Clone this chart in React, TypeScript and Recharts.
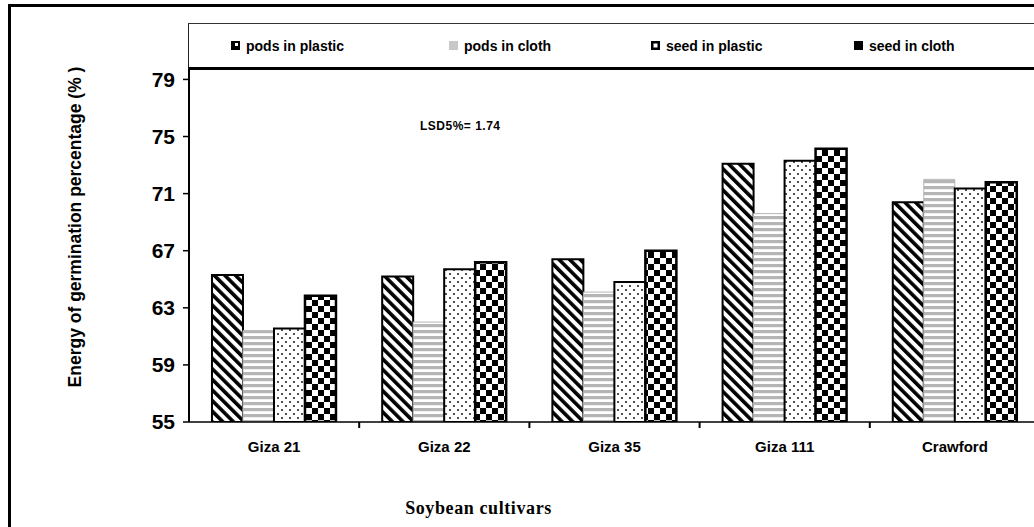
import React from 'react';
import { BarChart, Bar, XAxis, YAxis, Legend } from 'recharts';

const categories = ['Giza 21', 'Giza 22', 'Giza 35', 'Giza 111', 'Crawford'];
const podsInPlastic = [65.3, 65.2, 66.4, 73.1, 70.4];
const podsInCloth = [61.4, 62.0, 64.1, 69.6, 72.0];
const seedInPlastic = [61.55, 65.7, 64.8, 73.3, 71.35];
const seedInCloth = [63.85, 66.2, 67.0, 74.15, 71.8];
const seriesNames = ['pods in plastic', 'pods in cloth', 'seed in plastic', 'seed in cloth'];
const seriesKeys = ['podsPlastic', 'podsCloth', 'seedPlastic', 'seedCloth'];
const yTicks = [55, 59, 63, 67, 71, 75, 79];
const yMin = 55;
const yMax = 79.8;
const yTitle = 'Energy of germination percentage (% )';
const xTitle = 'Soybean cultivars';
const lsdText = 'LSD5%= 1.74';

const data = categories.map((c, i) => ({
  cultivar: c,
  podsPlastic: podsInPlastic[i],
  podsCloth: podsInCloth[i],
  seedPlastic: seedInPlastic[i],
  seedCloth: seedInCloth[i],
}));

const CHART_W = 1045;
const CHART_H = 527;
const MARGIN = { top: 68, right: 5, bottom: 0, left: 0 };
const YAXIS_W = 189;
const XAXIS_H = 105;
const PLOT_W = CHART_W - MARGIN.right - MARGIN.left - YAXIS_W;

const SANS = '"Liberation Sans", Arial, sans-serif';
const SERIF = '"Liberation Serif", "Times New Roman", serif';

const fills = ['url(#pDiag)', 'url(#pHStripe)', 'url(#pDots)', 'url(#pCheck)'];
const strokes = ['#000', '#b5b5b5', '#000', '#000'];
const strokeWidths = [2, 1, 2, 2.5];
const markerFills = ['url(#mDiag)', '#c8c8c8', 'url(#mBox)', '#000'];

const Patterns = () => (
  <svg width={0} height={0} style={{ position: 'absolute' }}>
    <defs>
      <pattern id="pDiag" width="7.5" height="7.5" patternUnits="userSpaceOnUse" patternTransform="rotate(-45)">
        <rect width="7.5" height="7.5" fill="#fff" />
        <rect width="3.6" height="7.5" fill="#000" />
      </pattern>
      <pattern id="pHStripe" width="6" height="6" patternUnits="userSpaceOnUse">
        <rect width="6" height="6" fill="#fff" />
        <rect width="6" height="3.2" fill="#b5b5b5" />
      </pattern>
      <pattern id="pDots" width="8" height="8" patternUnits="userSpaceOnUse">
        <rect width="8" height="8" fill="#fff" />
        <circle cx="2" cy="2" r="0.9" fill="#000" />
        <circle cx="6" cy="6" r="0.9" fill="#000" />
      </pattern>
      <pattern id="pCheck" width="12" height="12" patternUnits="userSpaceOnUse">
        <rect width="12" height="12" fill="#fff" />
        <rect width="6" height="6" fill="#000" />
        <rect x="6" y="6" width="6" height="6" fill="#000" />
      </pattern>
      <pattern id="mDiag" width="9" height="9" patternUnits="userSpaceOnUse">
        <rect width="9" height="9" fill="#000" />
        <rect x="4" y="2" width="3" height="3" fill="#fff" />
      </pattern>
      <pattern id="mBox" width="9" height="9" patternUnits="userSpaceOnUse">
        <rect width="9" height="9" fill="#000" />
        <rect x="2.5" y="2.5" width="4" height="4" fill="#fff" />
      </pattern>
    </defs>
  </svg>
);

const legendWidths = [218, 202, 203, 160];

const LegendContent = () => (
  <div
    style={{
      boxSizing: 'border-box',
      width: '100%',
      height: '100%',
      borderTop: '1px solid #333',
      borderLeft: '1.5px solid #222',
      borderBottom: '3.5px solid #000',
      display: 'flex',
      alignItems: 'center',
      paddingLeft: 42,
      fontFamily: SANS,
      fontWeight: 'bold',
      fontSize: 14,
      color: '#000',
    }}
  >
    {seriesNames.map((name, i) => (
      <div key={name} style={{ width: legendWidths[i], display: 'flex', alignItems: 'center', flex: 'none' }}>
        <svg width={9} height={9} style={{ marginRight: 6 }}>
          <rect width={9} height={9} fill={markerFills[i]} />
        </svg>
        <span>{name}</span>
      </div>
    ))}
  </div>
);

const XTick = (props: any) => {
  const { x, y, payload } = props;
  const band = PLOT_W / categories.length;
  return (
    <g>
      <line x1={x + band / 2} x2={x + band / 2} y1={y} y2={y + 6} stroke="#000" strokeWidth={2} />
      <text x={x} y={y + 30} textAnchor="middle" fontFamily={SANS} fontWeight="bold" fontSize={15} fill="#000">
        {payload.value}
      </text>
    </g>
  );
};

const YTitle = (props: any) => {
  const vb = props.viewBox || {};
  const cx = (vb.x || 0) + 75;
  const cy = (vb.y || 0) + (vb.height || 0) / 2 - 18;
  return (
    <text
      x={cx}
      y={cy}
      transform={`rotate(-90, ${cx}, ${cy})`}
      textAnchor="middle"
      dominantBaseline="central"
      fontFamily={SANS}
      fontWeight="bold"
      fontSize={17.5}
      fill="#000"
    >
      {yTitle}
    </text>
  );
};

const XTitle = (props: any) => {
  const vb = props.viewBox || {};
  const cx = (vb.x || 0) + (vb.width || 0) / 2 - 136;
  const cy = (vb.y || 0) + 92;
  return (
    <text x={cx} y={cy} textAnchor="middle" fontFamily={SERIF} fontWeight="bold" fontSize={18} letterSpacing={0.6} fill="#000">
      {xTitle}
    </text>
  );
};

export default function App() {
  return (
    <div
      style={{
        position: 'fixed',
        left: 0,
        top: 0,
        width: 1034,
        height: 527,
        overflow: 'hidden',
        background: '#fff',
      }}
    >
      <Patterns />
      <div style={{ position: 'absolute', left: 8, top: 4, right: 0, height: 3, background: '#000' }} />
      <div style={{ position: 'absolute', left: 8, top: 4, width: 2.5, bottom: 0, background: '#000' }} />
      <BarChart
        width={CHART_W}
        height={CHART_H}
        data={data}
        margin={MARGIN}
        barCategoryGap="13.5%"
        barGap={0}
      >
        <XAxis
          dataKey="cultivar"
          height={XAXIS_H}
          axisLine={{ stroke: '#000', strokeWidth: 1.5 }}
          tickLine={false}
          tickSize={0}
          tickMargin={0}
          tick={<XTick />}
          interval={0}
          label={{ content: <XTitle /> }}
        />
        <YAxis
          width={YAXIS_W}
          domain={[yMin, yMax]}
          ticks={yTicks}
          allowDataOverflow
          axisLine={{ stroke: '#000', strokeWidth: 2 }}
          tickLine={{ stroke: '#000', strokeWidth: 1.5 }}
          tickSize={6}
          tickMargin={8}
          tick={{ fontFamily: SANS, fontWeight: 'bold', fontSize: 21, fill: '#000' }}
          label={{ content: <YTitle /> }}
        />
        <Legend
          layout="horizontal"
          verticalAlign="middle"
          align="center"
          content={<LegendContent />}
          wrapperStyle={{ top: 23, left: 188, width: 860, height: 47 }}
        />
        {seriesKeys.map((k, i) => (
          <Bar
            key={k}
            dataKey={k}
            name={seriesNames[i]}
            fill={fills[i]}
            stroke={strokes[i]}
            strokeWidth={strokeWidths[i]}
            isAnimationActive={false}
          />
        ))}
      </BarChart>
      <div
        style={{
          position: 'absolute',
          left: 420,
          top: 119,
          fontFamily: SANS,
          fontWeight: 'bold',
          fontSize: 12,
          lineHeight: '15px',
          letterSpacing: 0.5,
          color: '#000',
          whiteSpace: 'nowrap',
        }}
      >
        {lsdText}
      </div>
    </div>
  );
}
